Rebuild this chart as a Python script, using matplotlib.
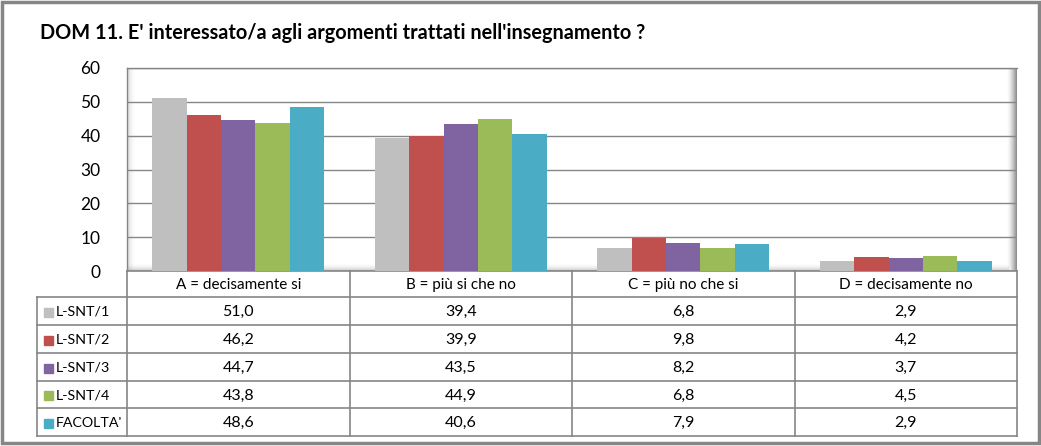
import matplotlib
matplotlib.use("Agg")
import matplotlib.pyplot as plt
import numpy as np

plt.rcParams['font.family'] = ['Lato', 'DejaVu Sans']

title = "DOM 11. E' interessato/a agli argomenti trattati nell'insegnamento ?"
categories = ["A = decisamente si", "B = più si che no", "C = più no che si", "D = decisamente no"]
series_names = ["L-SNT/1", "L-SNT/2", "L-SNT/3", "L-SNT/4", "FACOLTA'"]
lsnt1 = [51.0, 39.4, 6.8, 2.9]
lsnt2 = [46.2, 39.9, 9.8, 4.2]
lsnt3 = [44.7, 43.5, 8.2, 3.7]
lsnt4 = [43.8, 44.9, 6.8, 4.5]
facolta = [48.6, 40.6, 7.9, 2.9]
series_values = [lsnt1, lsnt2, lsnt3, lsnt4, facolta]
colors = ["#BFBFBF", "#C0504D", "#8064A2", "#9BBB59", "#4BACC6"]
yticks = [0, 10, 20, 30, 40, 50, 60]

W, H = 1041, 446
fig = plt.figure(figsize=(W / 100, H / 100), dpi=100)

# pixel layout
L, R, T, B = 127, 1017, 68, 271
ax = fig.add_axes([L / W, (H - B) / H, (R - L) / W, (B - T) / H])
n_cat = len(categories)
n_ser = len(series_values)
bw = 0.155
x = np.arange(n_cat)
for i, (vals, c) in enumerate(zip(series_values, colors)):
    ax.bar(x + (i - (n_ser - 1) / 2) * bw, vals, width=bw, color=c, zorder=3, linewidth=0)
ax.set_xlim(-0.5, n_cat - 0.5)
ax.set_ylim(0, 60)
ax.set_yticks(yticks)
ax.set_yticklabels([str(v) for v in yticks], fontsize=12.5, color="#000000")
ax.set_xticks([])
ax.tick_params(axis='y', length=0, pad=19)
ax.grid(axis='y', color="#868686", linewidth=1.0, zorder=0)
for s in ["top", "right", "left", "bottom"]:
    ax.spines[s].set_visible(False)
ax.patch.set_alpha(0)

# overlay for decorations and table (pixel coordinates)
ov = fig.add_axes([0, 0, 1, 1], zorder=-1)
ov.set_xlim(0, W)
ov.set_ylim(H, 0)
ov.axis('off')

# shadow effects of plot area
grad = np.linspace(0, 1, 50).reshape(1, -1)
ov.imshow(np.dstack([np.zeros((1, 50, 3)) + 0.45, (grad ** 1.5)[..., None] * 0.85]),
          extent=[R - 10, R, B, T], aspect='auto', zorder=1)
ov.imshow(np.dstack([np.zeros((1, 50, 3)) + 0.5, ((1 - grad) ** 2)[..., None] * 0.35]),
          extent=[L, L + 9, B, T], aspect='auto', zorder=1)
gv = np.linspace(0, 1, 50).reshape(-1, 1)
ov.imshow(np.dstack([np.zeros((50, 1, 3)) + 0.5, (gv ** 2)[..., None] * 0.45]),
          extent=[L, R - 8, B, B - 8], aspect='auto', zorder=1)
# plot area frame top/left
ov.plot([L, R], [T, T], color="#868686", lw=1.0, zorder=2)
ov.plot([L, L], [T, B], color="#868686", lw=1.0, zorder=2)

# outer border
ov.add_patch(plt.Rectangle((1.5, 1.5), W - 4, H - 5, fill=False, edgecolor="#868686", lw=2.5, zorder=5))

# title
fig.text(40 / W, 1 - 33 / H, title, fontsize=14.3, fontweight='bold', ha='left', va='center')

# data table
col_x = [L + (R - L) * k / n_cat for k in range(n_cat + 1)]
row_y = [B, 297, 325, 353, 381, 408, 436]
leg_x = 37
lc = "#868686"
lw = 1.2
# horizontal lines
ov.plot([L, R], [row_y[0], row_y[0]], color=lc, lw=lw, zorder=3)
for yy in row_y[1:]:
    ov.plot([leg_x, R], [yy, yy], color=lc, lw=lw, zorder=3)
# vertical lines
for xx in col_x:
    ov.plot([xx, xx], [row_y[0], row_y[-1]], color=lc, lw=lw, zorder=3)
ov.plot([leg_x, leg_x], [row_y[1], row_y[-1]], color=lc, lw=lw, zorder=3)

for k, cat in enumerate(categories):
    ov.text((col_x[k] + col_x[k + 1]) / 2, (row_y[0] + row_y[1]) / 2 + 1, cat,
            ha='center', va='center', fontsize=11, zorder=4)
for i, (name, vals, c) in enumerate(zip(series_names, series_values, colors)):
    yc = (row_y[i + 1] + row_y[i + 2]) / 2 + 1
    ov.add_patch(plt.Rectangle((leg_x + 7, yc - 4.5), 9, 9, color=c, zorder=4))
    ov.text(leg_x + 19, yc, name, ha='left', va='center', fontsize=10.3, zorder=4)
    for k, v in enumerate(vals):
        ov.text((col_x[k] + col_x[k + 1]) / 2, yc, f"{v:.1f}".replace('.', ','),
                ha='center', va='center', fontsize=11.5, zorder=4)

fig.savefig("out.png", dpi=100)
